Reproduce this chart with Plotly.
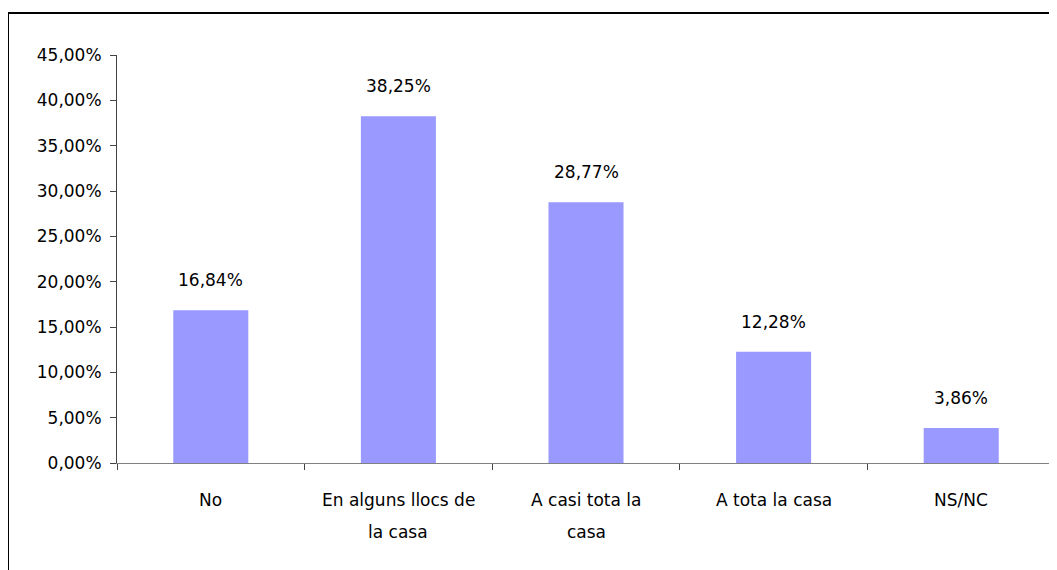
import plotly.graph_objects as go

# survey answers and their share
categories = ["No", "En alguns llocs de la casa", "A casi tota la casa", "A tota la casa", "NS/NC"]
label_lines = [["No"], ["En alguns llocs de", "la casa"], ["A casi tota la", "casa"], ["A tota la casa"], ["NS/NC"]]
values = [0.1684, 0.3825, 0.2877, 0.1228, 0.0386]
value_labels = ["16,84%", "38,25%", "28,77%", "12,28%", "3,86%"]
y_ticks = [0, 0.05, 0.10, 0.15, 0.20, 0.25, 0.30, 0.35, 0.40, 0.45]

# page has an 8px body margin, so the figure is sized to the window minus that
W, H = 1049, 562
ml, mr, mt, mb = 109, 2, 47, 107
pw, ph = W - ml - mr, H - mt - mb
font = "DejaVu Sans"
fs = 17

fig = go.Figure()
fig.add_trace(go.Bar(
    x=categories,
    y=values,
    marker=dict(color="#9999FF", line=dict(width=0)),
    hoverinfo="skip",
))

annotations = []
# value labels above the bars
for c, v, t in zip(categories, values, value_labels):
    annotations.append(dict(x=c, y=v, text=t, showarrow=False, yanchor="middle",
                            yshift=30, font=dict(size=fs, color="black", family=font)))
# category labels below the axis, one annotation per line (Excel-like spacing)
for c, lines in zip(categories, label_lines):
    for j, line in enumerate(lines):
        annotations.append(dict(x=c, y=0, yref="y", text=line, showarrow=False,
                                yanchor="middle", yshift=-37 - 32 * j,
                                font=dict(size=fs, color="black", family=font)))

# outer chart border (left/top visible, right/bottom run off the canvas)
fig.add_shape(type="rect", xref="paper", yref="paper",
              x0=(0 - ml) / pw, x1=(W + 6 - ml) / pw,
              y0=(ph + mt - (H + 6)) / ph, y1=(ph + mt - 5) / ph,
              line=dict(color="black", width=2), layer="below")

fig.update_layout(
    width=W, height=H,
    margin=dict(l=ml, r=mr, t=mt, b=mb),
    paper_bgcolor="white", plot_bgcolor="white",
    separators=",.",
    bargap=0.6,
    showlegend=False,
    font=dict(family=font, size=fs, color="black"),
    annotations=annotations,
    xaxis=dict(
        showticklabels=False,
        tickson="boundaries", ticks="outside", ticklen=6, tickcolor="#444",
        showline=True, linecolor="#808080", linewidth=1,
        showgrid=False, zeroline=False,
    ),
    yaxis=dict(
        range=[0, 0.45], tickvals=y_ticks, tickformat=".2%",
        ticks="outside", ticklen=6, tickcolor="#444",
        ticklabelstandoff=5,
        showline=True, linecolor="#444", linewidth=1,
        showgrid=False, zeroline=False,
        tickfont=dict(size=fs, family=font, color="black"),
    ),
)

fig.write_html("out.html")
